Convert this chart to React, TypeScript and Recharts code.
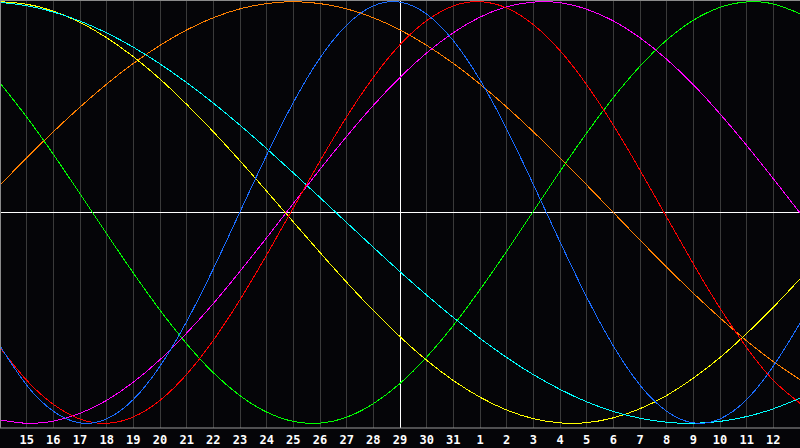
import React from 'react';
import { LineChart, Line, XAxis, YAxis, CartesianGrid, ReferenceLine } from 'recharts';

// Day labels for tick positions 1..29 (index 0 = 14th, index 30 = 13th, unlabeled)
const dayLabels = ['15','16','17','18','19','20','21','22','23','24','25','26','27','28','29','30','31','1','2','3','4','5','6','7','8','9','10','11','12'];

// Series values, one per day (index 0..30), range -1..1
const physical = [-0.633,-0.819,-0.943,-0.998,-0.979,-0.887,-0.729,-0.517,-0.267,0.003,0.272,0.522,0.733,0.889,0.980,0.998,0.941,0.815,0.629,0.396,0.133,-0.139,-0.401,-0.633,-0.819,-0.943,-0.998,-0.979,-0.887,-0.729,-0.525];
const emotional = [-0.641,-0.796,-0.910,-0.980,-1.000,-0.970,-0.891,-0.768,-0.606,-0.414,-0.201,0.022,0.244,0.454,0.641,0.796,0.910,0.980,1.000,0.970,0.891,0.768,0.606,0.414,0.201,-0.022,-0.244,-0.454,-0.641,-0.796,-0.905];
const intellectual = [0.614,0.453,0.276,0.089,-0.101,-0.287,-0.463,-0.623,-0.760,-0.869,-0.947,-0.991,-0.999,-0.971,-0.907,-0.811,-0.686,-0.536,-0.366,-0.184,0.006,0.195,0.377,0.545,0.694,0.818,0.912,0.973,0.999,0.989,0.943];
const intuitive = [-0.984,-1.000,-0.990,-0.953,-0.891,-0.805,-0.698,-0.572,-0.432,-0.279,-0.120,0.043,0.205,0.361,0.508,0.641,0.757,0.853,0.927,0.976,0.998,0.995,0.964,0.909,0.829,0.727,0.606,0.468,0.318,0.160,-0.002];
const aesthetic = [1.000,0.988,0.955,0.902,0.829,0.739,0.633,0.513,0.383,0.245,0.101,-0.045,-0.190,-0.331,-0.465,-0.589,-0.701,-0.797,-0.876,-0.937,-0.978,-0.998,-0.997,-0.974,-0.931,-0.868,-0.786,-0.688,-0.574,-0.449,-0.315];
const awareness = [0.131,0.259,0.383,0.500,0.609,0.707,0.793,0.866,0.924,0.966,0.991,1.000,0.991,0.966,0.924,0.866,0.793,0.707,0.609,0.500,0.383,0.259,0.131,0.000,-0.131,-0.259,-0.383,-0.500,-0.609,-0.707,-0.793];
const spiritual = [0.997,0.981,0.951,0.908,0.852,0.784,0.705,0.616,0.519,0.414,0.303,0.188,0.071,-0.048,-0.165,-0.281,-0.392,-0.498,-0.597,-0.688,-0.769,-0.839,-0.898,-0.944,-0.976,-0.995,-1.000,-0.991,-0.968,-0.931,-0.881];

const tickIdx = dayLabels.map((_, k) => k + 1);

const data = physical.map((_, i) => ({
  i,
  physical: physical[i],
  emotional: emotional[i],
  intellectual: intellectual[i],
  intuitive: intuitive[i],
  aesthetic: aesthetic[i],
  awareness: awareness[i],
  spiritual: spiritual[i],
}));

const series = [
  { key: 'intellectual', color: '#00ff00' },
  { key: 'awareness', color: '#ff8000' },
  { key: 'aesthetic', color: '#ffff00' },
  { key: 'spiritual', color: '#00ffff' },
  { key: 'intuitive', color: '#ff00ff' },
  { key: 'emotional', color: '#ff0000' },
  { key: 'physical', color: '#1a6cff' },
];

export default function App() {
  return (
    <div style={{ position: 'fixed', left: 0, top: 0, width: 800, height: 448, background: '#050508', overflow: 'hidden' }}>
      <LineChart width={800} height={448} data={data} margin={{ top: 0, right: 0, bottom: 0, left: 0 }}>
        <CartesianGrid horizontal={false} stroke="#3a3a3a" shapeRendering="crispEdges" />
        <XAxis
          type="number"
          dataKey="i"
          domain={[0, 30]}
          ticks={tickIdx}
          interval={0}
          height={20}
          tickLine={false}
          tickSize={5}
          axisLine={{ stroke: '#9a9a9a' }}
          tickFormatter={(v: number) => dayLabels[v - 1]}
          tick={{ fill: '#ffffff', fontSize: 12, fontWeight: 'bold', fontFamily: 'DejaVu Sans Mono' }}
        />
        <YAxis hide type="number" domain={[-1.0223, 1.008]} />
        <ReferenceLine x={15} stroke="#ffffff" shapeRendering="crispEdges" />
        <ReferenceLine y={0} stroke="#ffffff" shapeRendering="crispEdges" />
        {series.map((s) => (
          <Line
            key={s.key}
            type="natural"
            dataKey={s.key}
            stroke={s.color}
            strokeWidth={1}
            dot={false}
            activeDot={false}
            isAnimationActive={false}
            shapeRendering="crispEdges"
          />
        ))}
      </LineChart>
      <div style={{ position: 'absolute', left: 0, top: 0, width: 800, height: 428, borderTop: '1px solid #8a8a8a', borderLeft: '1px solid #8a8a8a', boxSizing: 'border-box', pointerEvents: 'none' }} />
    </div>
  );
}
